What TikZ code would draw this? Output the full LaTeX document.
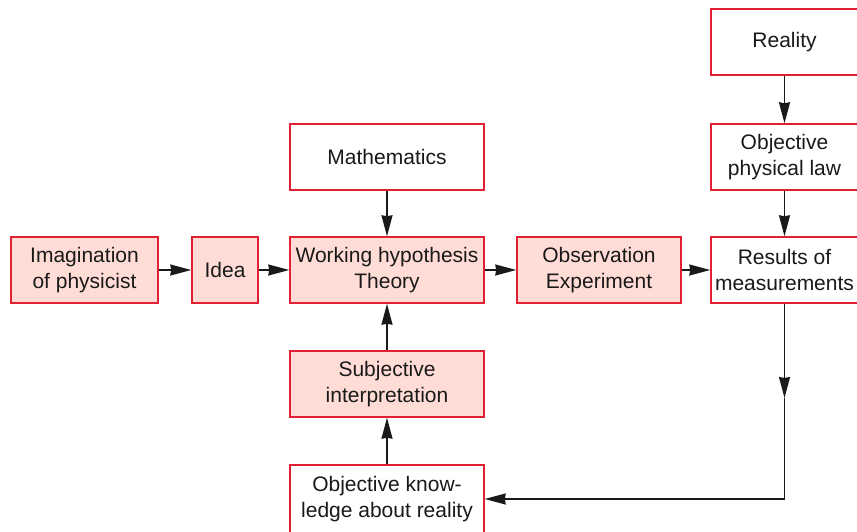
\documentclass[tikz,border=0pt]{standalone}
\usepackage{fontspec}
\setmainfont{Liberation Sans}
\usetikzlibrary{arrows.meta}
\definecolor{boxred}{RGB}{226,32,52}
\definecolor{boxfill}{RGB}{255,221,214}
\definecolor{lineblack}{RGB}{25,25,25}
\begin{document}
\begin{tikzpicture}[x=1pt,y=-1pt,
  box/.style={draw=boxred,line width=1.5pt,rectangle,align=center,inner sep=0pt,
    font=\fontsize{21}{26}\selectfont,text=black!90},
  filled/.style={box,fill=boxfill},
  plain/.style={box,fill=white},
  arr/.style={draw=lineblack,line width=1.5pt,-{Stealth[length=21pt,width=11pt,inset=1pt]}}]
\useasboundingbox (0,0) rectangle (857,531);
% row
\node[filled,minimum width=147pt,minimum height=66pt] (imag) at (84.5,270) {Imagination\\of physicist};
\node[filled,minimum width=66pt,minimum height=66pt] (idea) at (225,270) {Idea};
\node[filled,minimum width=194pt,minimum height=66pt] (wh) at (387,270) {Working hypothesis\\Theory};
\node[filled,minimum width=164pt,minimum height=66pt] (obs) at (599,270) {Observation\\Experiment};
\node[plain,minimum width=147pt,minimum height=66pt] (res) at (784.5,270) {Results of\\measurements};
% right column
\node[plain,minimum width=147pt,minimum height=66pt] (real) at (784.5,42) {Reality};
\node[plain,minimum width=147pt,minimum height=66pt] (law) at (784.5,157) {Objective\\physical law};
% middle column
\node[plain,minimum width=194pt,minimum height=66pt] (math) at (387,157) {Mathematics};
\node[filled,minimum width=194pt,minimum height=66pt] (subj) at (387,384) {Subjective\\interpretation};
\node[plain,minimum width=194pt,minimum height=68pt] (ok) at (387,499) {Objective know-\\ledge about reality};
\coordinate (mid) at (784.5,398);
% connectors
\draw[arr] (imag) -- (idea);
\draw[arr] (idea) -- (wh);
\draw[arr] (wh) -- (obs);
\draw[arr] (obs) -- (res);
\draw[arr] (real) -- (law);
\draw[arr] (law) -- (res);
\draw[arr] (math) -- (wh);
\draw[arr] (subj) -- (wh);
\draw[arr] (ok) -- (subj);
\draw[arr] (res) -- (mid);
\draw[arr] (mid) |- (ok.east);
\end{tikzpicture}
\end{document}
